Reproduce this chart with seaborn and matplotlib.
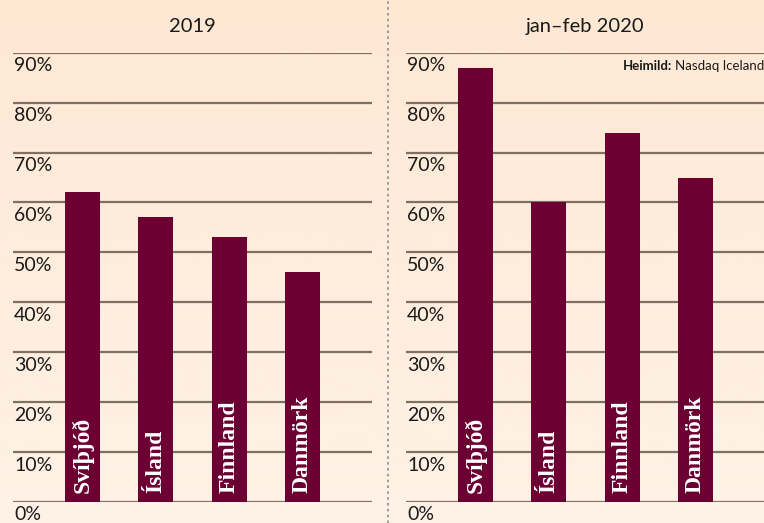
import numpy as np
import pandas as pd
import seaborn as sns
import matplotlib.pyplot as plt
from matplotlib.transforms import blended_transform_factory, offset_copy

countries = ['Svíþjóð', 'Ísland', 'Finnland', 'Danmörk']
share_2019 = [62, 57, 53, 46]
share_2020 = [87, 60, 74, 65]
panel_titles = ['2019', 'jan–feb 2020']
yticks = [0, 10, 20, 30, 40, 50, 60, 70, 80, 90]

BAR = '#6d0033'
GRID = '#7f7062'

sns.set_theme(style='white')
plt.rcParams['font.family'] = ['Lato', 'DejaVu Sans']

fig = plt.figure(figsize=(7.64, 5.23), dpi=100)

# background gradient, peach at top fading lighter at bottom
bg = fig.add_axes([0, 0, 1, 1], zorder=-10)
grad = np.linspace(0, 1, 256).reshape(-1, 1)
top = np.array([254, 232, 212]) / 255
bot = np.array([254, 242, 230]) / 255
img = top + (bot - top) * grad[:, :, None]
bg.imshow(img, aspect='auto', extent=[0, 1, 0, 1])
bg.axis('off')

# dotted separator between panels
fig.add_artist(plt.Line2D([388 / 764, 388 / 764], [0, 1], color='#8a8a8a',
                          lw=1.2, ls=(0, (1.5, 2))))

bottom = 21 / 523
height = (502 - 52.7) / 523
lefts = [13 / 764, 406 / 764]
width = 359 / 764

for left, vals, title in zip(lefts, [share_2019, share_2020], panel_titles):
    ax = fig.add_axes([left, bottom, width, height])
    ax.patch.set_alpha(0)
    df = pd.DataFrame({'land': countries, 'hlutfall': vals})
    sns.barplot(data=df, x='land', y='hlutfall', color=BAR, saturation=1,
                width=0.477, linewidth=0, ax=ax, zorder=3)
    ax.set_xlim(-0.948, 3.95)
    ax.set_ylim(0, 90)
    ax.set_xlabel('')
    ax.set_ylabel('')
    ax.set_xticks([])
    ax.set_yticks([])
    for s in ax.spines.values():
        s.set_visible(False)
    trans = blended_transform_factory(ax.transAxes, ax.transData)
    for t in yticks:
        ax.axhline(t, color=GRID, lw=1.6, zorder=1)
        ax.text(0.003, t - 0.9, f'{t}%', transform=trans, ha='left', va='top',
                fontsize=14, color='#1a1a1a', zorder=4, clip_on=False)
    for i, name in enumerate(countries):
        ax.text(i, 1.8, name, rotation=90, ha='center', va='bottom',
                color='white', fontsize=17, fontweight='bold',
                family='Liberation Serif', zorder=5)
    ax.text(0.5, 1.0 + 26 / 449, title, transform=ax.transAxes, ha='center',
            va='center', fontsize=14.5, color='#1a1a1a')

src = fig.text(764 / 764, 1 - 66 / 523, 'Nasdaq Iceland', ha='right',
               va='center', fontsize=9.5, color='#1a1a1a')
fig.canvas.draw()
bb = src.get_window_extent()
fig.text(bb.x0 - 3, bb.y0 + bb.height / 2, 'Heimild:', transform=None,
         ha='right', va='center', fontsize=9.5, fontweight='bold',
         color='#1a1a1a')

fig.savefig('out.png', dpi=100)
